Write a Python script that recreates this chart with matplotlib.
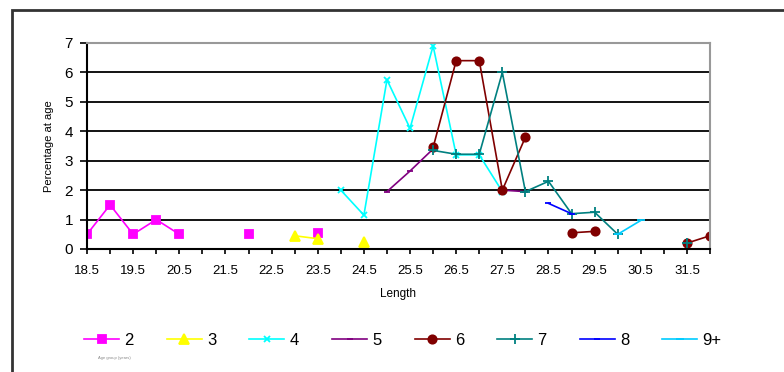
import numpy as np
import matplotlib
matplotlib.use("Agg")
import matplotlib.pyplot as plt
from matplotlib.patches import Rectangle

plt.rcParams['font.family'] = ['Liberation Sans', 'DejaVu Sans']

n = np.nan
# length categories (cm)
lengths = [18.5, 19, 19.5, 20, 20.5, 21, 21.5, 22, 22.5, 23, 23.5, 24, 24.5, 25,
           25.5, 26, 26.5, 27, 27.5, 28, 28.5, 29, 29.5, 30, 30.5, 31, 31.5, 32]

# percentage at age, one list per age group, aligned with lengths
age2 = [0.5, 1.5, 0.5, 1.0, 0.5, n, n, 0.5, n, n, 0.55, n, n, n,
        n, n, n, n, n, n, n, n, n, n, n, n, n, n]
age3 = [n, n, n, n, n, n, n, n, n, 0.45, 0.35, n, 0.25, n,
        n, n, n, n, n, n, n, n, n, n, n, n, n, n]
age4 = [n, n, n, n, n, n, n, n, n, n, n, 2.0, 1.15, 5.75,
        4.1, 6.9, 3.2, 3.2, 1.95, n, n, n, n, n, n, n, n, n]
age5 = [n, n, n, n, n, n, n, n, n, n, n, n, n, 1.95,
        2.65, 3.4, n, n, 2.0, 1.95, n, n, n, n, n, n, n, n]
age6 = [n, n, n, n, n, n, n, n, n, n, n, n, n, n,
        n, 3.45, 6.4, 6.4, 2.0, 3.8, n, 0.55, 0.6, n, n, n, 0.2, 0.45]
age7 = [n, n, n, n, n, n, n, n, n, n, n, n, n, n,
        n, 3.35, 3.22, 3.22, 6.0, 1.95, 2.3, 1.2, 1.25, 0.5, n, n, 0.2, n]
age8 = [n, n, n, n, n, n, n, n, n, n, n, n, n, n,
        n, n, n, n, n, n, 1.55, 1.2, n, n, n, n, n, n]
age9 = [n, n, n, n, n, n, n, n, n, n, n, n, n, n,
        n, n, n, n, n, n, n, n, n, 0.5, 0.97, n, n, n]

series = [
    ("2", age2, "#FF00FF", "s", 6),
    ("3", age3, "#FFFF00", "^", 6.5),
    ("4", age4, "#00FFFF", "x", 4.5),
    ("5", age5, "#800080", "_", 5),
    ("6", age6, "#800000", "o", 6),
    ("7", age7, "#008080", "+", 6.5),
    ("8", age8, "#0000FF", "_", 4),
    ("9+", age9, "#00CCFF", "_", 6),
]

fig = plt.figure(figsize=(7.84, 3.72), dpi=100)
ax = fig.add_axes([87 / 784, 1 - 249 / 372, 623 / 784, 206 / 372])

x = np.arange(len(lengths))
for name, vals, col, mk, ms in series:
    ax.plot(x, vals, color=col, marker=mk, markersize=ms, lw=1.2,
            markeredgewidth=1.3, label=name)

ax.set_xlim(0, len(lengths) - 1)
ax.set_ylim(0, 7)
ax.set_yticks(range(8))
ax.set_xticks(x)
ax.set_xticklabels([str(v) if i % 2 == 0 else "" for i, v in enumerate(lengths)],
                   fontsize=9.5)
ax.tick_params(axis='y', labelsize=11, length=5, width=1.2, pad=5)
ax.tick_params(axis='x', length=3.5, width=1.2, pad=8)
for yv in range(1, 7):
    ax.axhline(yv, color='black', lw=1.3, zorder=0)
for s in ['left', 'bottom']:
    ax.spines[s].set_linewidth(1.5)
    ax.spines[s].set_color('black')
for s in ['top', 'right']:
    ax.spines[s].set_linewidth(1.5)
    ax.spines[s].set_color('#999999')

ax.set_ylabel("Percentage at age", fontsize=8, labelpad=8)
ax.set_xlabel("Length", fontsize=8.5, labelpad=8)

leg = ax.legend(loc='center', bbox_to_anchor=(0.507, -0.445), ncol=8, frameon=False,
                fontsize=12, handlelength=2.1, handletextpad=0.3, columnspacing=2.0)

fig.text(0.125, 1 - 359 / 372, "Age group (years)", fontsize=3, color='#888888')

fig.add_artist(Rectangle((12 / 784, -0.1), 1.2, 1.1 - 10 / 372,
                         transform=fig.transFigure, fill=False,
                         edgecolor='#333333', lw=2))

fig.savefig("out.png", dpi=100)
